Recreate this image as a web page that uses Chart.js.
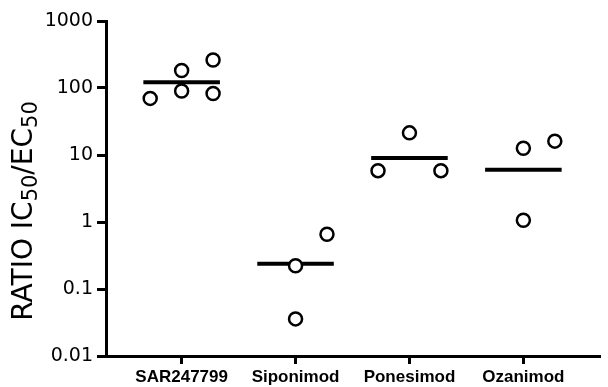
<!DOCTYPE html>
<html>
<head>
<meta charset="utf-8">
<script src="https://cdn.jsdelivr.net/npm/chart.js@4.4.1/dist/chart.umd.min.js"></script>
<style>
body{margin:0;background:#fff}
canvas{display:block}
</style>
</head>
<body>
<canvas id="ratioChart" width="608" height="387"></canvas>
<script>
// categories + per-compound ratios
const categories=["SAR247799","Siponimod","Ponesimod","Ozanimod"]
const sarValues=[70,183,90,261,83]
const sarCols=[-1,0,0,1,1]
const sipValues=[0.222,0.656,0.0358]
const sipCols=[0,1,0]
const ponValues=[5.84,21.4,5.84]
const ponCols=[-1,0,1]
const ozaValues=[12.6,16.1,1.06]
const ozaCols=[0,1,0]
const meanValues=[122,0.238,9.0,6.0]
const yTicks=[0.01,0.1,1,10,100,1000]

const groups=[
{values:sarValues,cols:sarCols},
{values:sipValues,cols:sipCols},
{values:ponValues,cols:ponCols},
{values:ozaValues,cols:ozaCols}
]
const colStep=0.276
const halfLine=0.336

let points=[]
groups.forEach(function(g,i){
g.values.forEach(function(v,k){
points.push({x:i+g.cols[k]*colStep,y:v})
})
})

let datasets=[{
type:"scatter",
data:points,
pointStyle:"circle",
pointRadius:6.5,
pointHoverRadius:6.5,
backgroundColor:"#fff",
borderColor:"#000",
borderWidth:2.5
}]
meanValues.forEach(function(m,i){
datasets.push({
type:"line",
data:[{x:i-halfLine,y:m},{x:i+halfLine,y:m}],
borderColor:"#000",
borderWidth:4,
pointRadius:0,
borderCapStyle:"butt"
})
})

// y title with subscripts
const yTitle={
id:"yTitle",
afterDraw(chart){
const c=chart.ctx
const parts=[["RATIO IC",false],["50",true],["/EC",false],["50",true]]
const big="28px 'DejaVu Sans'"
const small="21px 'DejaVu Sans'"
c.save()
let total=0
parts.forEach(function(p){c.font=p[1]?small:big;total+=c.measureText(p[0]).width})
c.translate(32,211)
c.rotate(-Math.PI/2)
c.fillStyle="#000"
c.textBaseline="alphabetic"
let x=-total/2
parts.forEach(function(p){
c.font=p[1]?small:big
c.fillText(p[0],x,p[1]?5:0)
x+=c.measureText(p[0]).width
})
c.restore()
}
}

new Chart(document.getElementById("ratioChart"),{
type:"scatter",
data:{datasets:datasets},
options:{
responsive:false,
animation:false,
layout:{padding:{top:21,right:0,left:0,bottom:0}},
plugins:{legend:{display:false},tooltip:{enabled:false}},
scales:{
x:{
type:"linear",
min:-0.664,
max:3.664,
afterBuildTicks(s){s.ticks=categories.map(function(c,i){return {value:i}})},
afterFit(s){s.height=31},
ticks:{
autoSkip:false,
maxRotation:0,
padding:3,
color:"#000",
font:{family:"'Liberation Sans', Arial",size:17,weight:"bold"},
callback:function(v){return categories[v]}
},
grid:{drawOnChartArea:false,drawTicks:true,tickLength:8,color:"#000",lineWidth:3},
border:{display:true,color:"#000",width:3}
},
y:{
type:"logarithmic",
min:0.01,
max:1000,
afterBuildTicks(s){s.ticks=yTicks.map(function(v){return {value:v}})},
afterFit(s){s.width=106},
ticks:{
padding:4,
color:"#000",
font:{family:"DejaVu Sans",size:19},
callback:function(v){return String(v)}
},
grid:{drawOnChartArea:false,drawTicks:true,tickLength:9,color:"#000",lineWidth:3},
border:{display:true,color:"#000",width:3}
}
}
},
plugins:[yTitle]
})
</script>
</body>
</html>
